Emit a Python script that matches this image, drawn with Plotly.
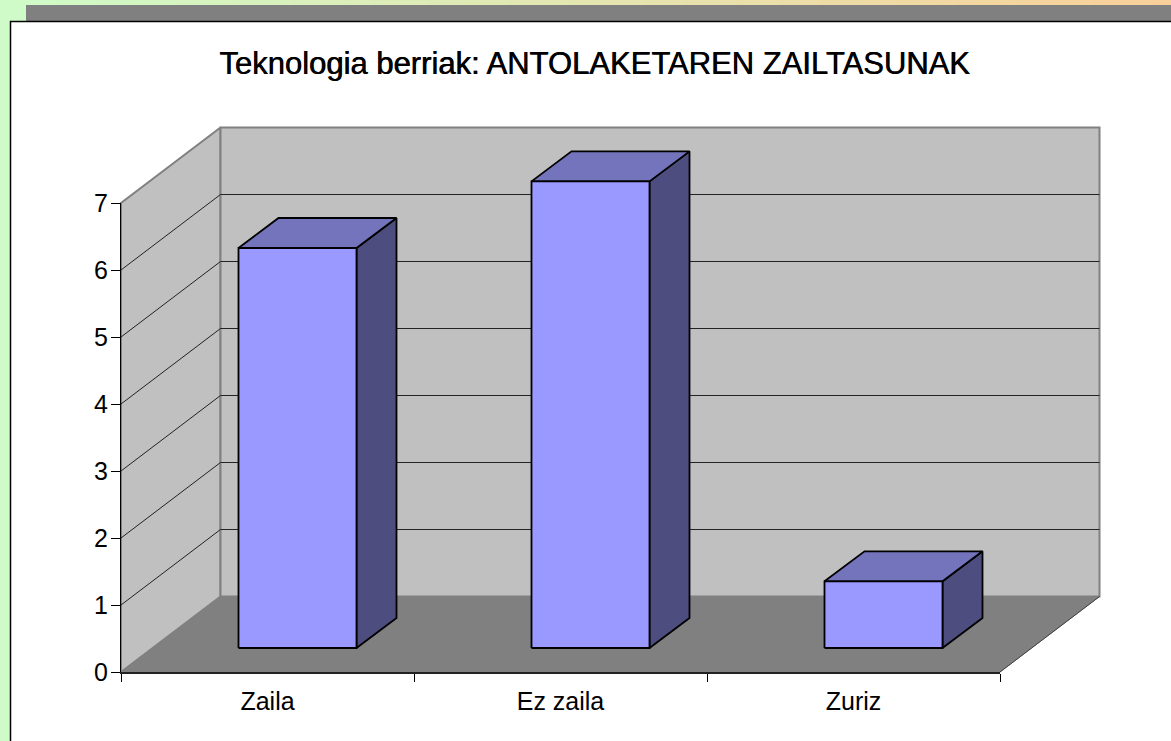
import plotly.graph_objects as go

# Data
categories = ["Zaila", "Ez zaila", "Zuriz"]
values = [6, 7, 1]
y_ticks = [0, 1, 2, 3, 4, 5, 6, 7]
title_text = "Teknologia berriak: ANTOLAKETAREN ZAILTASUNAK"

# Geometry of the pseudo-3D projection (axis units)
W, H = 1171, 741
PX0, PX1, PY0, PY7 = 121, 1000, 672, 203
UX = (PX1 - PX0) / 3
UY = (PY0 - PY7) / 7
DEPTH_X = 99.5 / UX
DEPTH_Y = 75.5 / UY
BAR_W = 118 / UX
BAR_SHIFT_X = 30 / UX
BAR_SHIFT_Y = 24 / UY
BAR_DX = 40 / UX
BAR_DY = 30 / UY
BAR_SCALE = 0.995
YMAX = y_ticks[-1]
NCAT = len(categories)

WALL = "#C0C0C0"
FLOOR = "#808080"
FRONT = "#9999FF"
TOP = "#7474BD"
SIDE = "#4D4D80"
FONT = "Liberation Sans"


def poly(xs, ys, fill, line_color, line_width):
    return go.Scatter(
        x=xs, y=ys, mode="lines", fill="toself", fillcolor=fill,
        line=dict(color=line_color, width=line_width),
        hoverinfo="skip", showlegend=False,
    )


def seg(xs, ys, color, width):
    return go.Scatter(
        x=xs, y=ys, mode="lines", line=dict(color=color, width=width),
        hoverinfo="skip", showlegend=False,
    )


traces = []
# Walls and floor
traces.append(poly([0, DEPTH_X, DEPTH_X, 0, 0],
                   [0, DEPTH_Y, YMAX + DEPTH_Y, YMAX, 0], WALL, FLOOR, 2))
traces.append(poly([DEPTH_X, NCAT + DEPTH_X, NCAT + DEPTH_X, DEPTH_X, DEPTH_X],
                   [DEPTH_Y, DEPTH_Y, YMAX + DEPTH_Y, YMAX + DEPTH_Y, DEPTH_Y], WALL, FLOOR, 2))
traces.append(poly([0, DEPTH_X, NCAT + DEPTH_X, NCAT, 0],
                   [0, DEPTH_Y, DEPTH_Y, 0, 0], FLOOR, FLOOR, 1))
traces.append(seg([NCAT, NCAT + DEPTH_X], [0, DEPTH_Y], "#404040", 1))

# Gridlines
for t in y_ticks[1:-1]:
    traces.append(seg([0, DEPTH_X, NCAT + DEPTH_X],
                      [t, t + DEPTH_Y, t + DEPTH_Y], "#222222", 1))

# Bars
for i, v in enumerate(values):
    x0 = i + 0.5 + BAR_SHIFT_X - BAR_W / 2
    x1 = x0 + BAR_W
    y0 = BAR_SHIFT_Y
    y1 = v * BAR_SCALE + BAR_SHIFT_Y
    traces.append(poly([x1, x1 + BAR_DX, x1 + BAR_DX, x1, x1],
                       [y0, y0 + BAR_DY, y1 + BAR_DY, y1, y0], SIDE, "#000000", 1.8))
    traces.append(poly([x0, x0 + BAR_DX, x1 + BAR_DX, x1, x0],
                       [y1, y1 + BAR_DY, y1 + BAR_DY, y1, y1], TOP, "#000000", 1.8))
    traces.append(poly([x0, x1, x1, x0, x0],
                       [y0, y0, y1, y1, y0], FRONT, "#000000", 1.8))

# Invisible carrier so that the tick-bearing axes are live
traces.append(go.Scatter(x=[0, NCAT], y=[0, YMAX], xaxis="x2", yaxis="y2", mode="markers",
                         marker=dict(opacity=0), hoverinfo="skip", showlegend=False))

fig = go.Figure(traces)

# Page furniture behind the chart (paper = page with zero margins)
shapes = []
c0, c1 = (207, 251, 200), (250, 208, 154)
n = 60
for k in range(n):
    f = k / (n - 1)
    col = "rgb(%d,%d,%d)" % tuple(round(a + (b - a) * f) for a, b in zip(c0, c1))
    shapes.append(dict(type="rect", xref="paper", yref="paper", layer="below",
                       x0=k / n, x1=(k + 1.1) / n,
                       y0=1, y1=1 - 6 / H, fillcolor=col, line_width=0))
shapes.append(dict(type="rect", xref="paper", yref="paper", layer="below",
                   x0=26 / W, x1=1.01, y0=1 - 5 / H, y1=1 - 22 / H,
                   fillcolor="#808080", line_width=0))
shapes.append(dict(type="rect", xref="paper", yref="paper", layer="below",
                   x0=10.5 / W, x1=1.02, y0=1 - 21.5 / H, y1=-0.02,
                   fillcolor="#FFFFFF", line=dict(color="#000000", width=1.5)))

fig.update_layout(
    width=W, height=H,
    margin=dict(l=0, r=0, t=0, b=0, pad=0),
    paper_bgcolor="#CFFBC8",
    plot_bgcolor="rgba(0,0,0,0)",
    showlegend=False,
    shapes=shapes,
    font=dict(family=FONT, color="#000000", size=25),
    title=dict(text=title_text, x=594.5 / W, xanchor="center", y=1 - 63 / H, yanchor="middle",
               font=dict(family=FONT, size=31, color="#000000", shadow="0.6px 0 0 #000000")),
    # Full-page axes at the same scale: they carry the projected walls and bars
    xaxis=dict(domain=[0, 1], anchor="y", visible=False, automargin=False,
               range=[-PX0 / UX, (W - PX0) / UX]),
    yaxis=dict(domain=[0, 1], anchor="x", visible=False, automargin=False,
               range=[-(H - PY0) / UY, PY0 / UY]),
    xaxis2=dict(
        domain=[PX0 / W, PX1 / W], anchor="y2", automargin=False,
        range=[0, NCAT], showgrid=False, zeroline=False, showline=True,
        linecolor="#222222", linewidth=2,
        tickmode="array",
        tickvals=[i + 0.5 for i in range(NCAT)], ticktext=categories, ticks="",
        ticklabelstandoff=6,
        minor=dict(tickmode="array", tickvals=list(range(NCAT + 1)), ticks="outside",
                   ticklen=8, tickwidth=1, tickcolor="#000000", showgrid=False),
    ),
    yaxis2=dict(
        domain=[1 - PY0 / H, 1 - PY7 / H], anchor="x2", automargin=False,
        range=[0, YMAX], showgrid=False, zeroline=False, showline=True,
        linecolor="#000000", linewidth=1,
        tickmode="array", tickvals=y_ticks, ticks="outside",
        ticklen=9, tickwidth=1, tickcolor="#000000", ticklabelstandoff=-2,
    ),
)

fig.write_html("out.html", post_script="document.body.style.margin='0';",
               config=dict(displayModeBar=False))
